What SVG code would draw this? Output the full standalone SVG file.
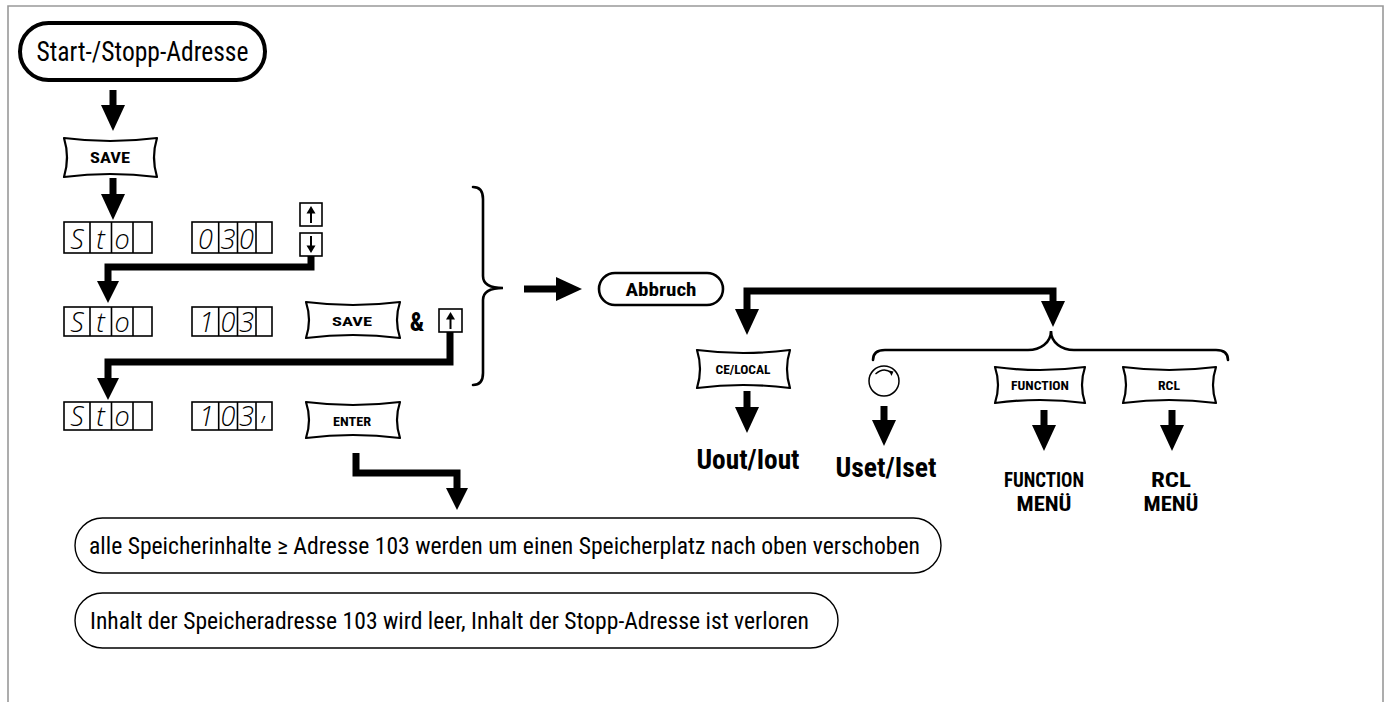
<svg xmlns="http://www.w3.org/2000/svg" width="1390" height="702" viewBox="0 0 1390 702">
<style>
.frame{fill:none;stroke:#999;stroke-width:1.6}
.conn{fill:none;stroke:#000;stroke-width:7;stroke-linejoin:miter}
.btn{fill:#fff;stroke:#000;stroke-width:2.2;stroke-linejoin:round}
.pill{fill:#fff;stroke:#000}
.brace{fill:none;stroke:#000;stroke-width:2.6;stroke-linecap:round}
.disp{fill:none;stroke:#000;stroke-width:1.6}
.key{fill:#fff;stroke:#000;stroke-width:1.6}
.t{font-family:"Liberation Sans Narrow","Roboto Condensed","DejaVu Sans Condensed","Liberation Sans",Arial,sans-serif;fill:#000}
.b{font-weight:bold}
.seg{font-family:"Open Sans","DejaVu Sans",sans-serif;font-style:italic;font-weight:300;font-size:27px;fill:#000;text-anchor:middle}
</style>
<defs>
<marker id="ah" viewBox="0 0 26 24" refX="0" refY="12" markerWidth="26" markerHeight="24" markerUnits="userSpaceOnUse" orient="auto-start-reverse">
<path d="M0,0 L26,12 L0,24 Z" fill="#000"/>
</marker>
<marker id="ahs" viewBox="0 0 22 22" refX="0" refY="11" markerWidth="22" markerHeight="22" markerUnits="userSpaceOnUse" orient="auto-start-reverse">
<path d="M0,0 L22,11 L0,22 Z" fill="#000"/>
</marker>
</defs>

<path class="frame" d="M8,702 L8,6 L1383,6 L1383,702"/>

<g id="connectors">
<path class="conn" d="M113,90 L113,105" marker-end="url(#ah)"/>
<path class="conn" d="M113,178 L113,194" marker-end="url(#ah)"/>
<path class="conn" d="M311,256 L311,267 L108,267 L108,281" marker-end="url(#ahs)"/>
<path class="conn" d="M450,332 L450,362 L108,362 L108,378" marker-end="url(#ahs)"/>
<path class="conn" d="M356,453 L356,473 L457,473 L457,488" marker-end="url(#ahs)"/>
<path class="conn" d="M524,289 L556,289" marker-end="url(#ah)"/>
<path class="conn" d="M747,309 L747,291 L1053,291 L1053,301" marker-start="url(#ah)" marker-end="url(#ah)"/>
<path class="conn" d="M747,391 L747,407" marker-end="url(#ah)"/>
<path class="conn" d="M884,406 L884,420" marker-end="url(#ah)"/>
<path class="conn" d="M1044,410 L1044,425" marker-end="url(#ah)"/>
<path class="conn" d="M1172,410 L1172,425" marker-end="url(#ah)"/>
</g>

<g id="start">
<rect class="pill" x="20" y="23" width="245" height="57" rx="28.5" stroke-width="4"/>
<text class="t" x="142.5" y="61" font-size="28" text-anchor="middle" textLength="212" lengthAdjust="spacingAndGlyphs">Start-/Stopp-Adresse</text>
</g>

<g id="save1">
<path class="btn" d="M64,138 Q110,144 157,138 Q151,157.5 157,177 Q110,171 64,177 Q70,157.5 64,138 Z"/>
<text class="t b" x="110" y="163" font-size="14" text-anchor="middle" textLength="40" lengthAdjust="spacingAndGlyphs">SAVE</text>
</g>

<g id="row1">
<rect class="disp" x="64" y="222" width="88" height="31"/>
<path class="disp" d="M90,222 V253 M111.5,222 V253 M133,222 V253"/>
<text class="seg" x="77" y="249">S</text>
<text class="seg" x="100.5" y="249">t</text>
<text class="seg" x="122" y="249">o</text>
<rect class="disp" x="192" y="222" width="80" height="31"/>
<path class="disp" d="M218.7,222 V253 M237.5,222 V253 M256,222 V253"/>
<text class="seg" x="205.5" y="249">0</text>
<text class="seg" x="228" y="249">3</text>
<text class="seg" x="246.5" y="249">0</text>
</g>

<g id="key-up">
<rect class="key" x="300" y="203" width="22" height="23"/>
<path d="M311,223 V212" stroke="#000" stroke-width="2"/>
<path d="M306.5,213.5 L315.5,213.5 L311,206 Z" fill="#000"/>
</g>
<g id="key-down">
<rect class="key" x="300" y="233" width="22" height="23"/>
<path d="M311,236 V247" stroke="#000" stroke-width="2"/>
<path d="M306.5,245.5 L315.5,245.5 L311,253 Z" fill="#000"/>
</g>

<g id="row2">
<rect class="disp" x="64" y="307" width="88" height="29"/>
<path class="disp" d="M90,307 V336 M111.5,307 V336 M133,307 V336"/>
<text class="seg" x="77" y="332">S</text>
<text class="seg" x="100.5" y="332">t</text>
<text class="seg" x="122" y="332">o</text>
<rect class="disp" x="192" y="307" width="80" height="29"/>
<path class="disp" d="M218.7,307 V336 M237.5,307 V336 M256,307 V336"/>
<text class="seg" x="206.5" y="332">1</text>
<text class="seg" x="228" y="332">0</text>
<text class="seg" x="246.5" y="332">3</text>
</g>

<g id="save2">
<path class="btn" d="M306,302 Q353,308 400,302 Q394,320 400,338 Q353,332 306,338 Q312,320 306,302 Z"/>
<text class="t b" x="352" y="326" font-size="13" text-anchor="middle" textLength="40" lengthAdjust="spacingAndGlyphs">SAVE</text>
</g>
<g id="amp">
<text class="t b" x="417" y="331" font-size="25" text-anchor="middle">&amp;</text>
</g>
<g id="key-up2">
<rect class="key" x="439" y="309" width="23" height="23"/>
<path d="M450.5,329 V318" stroke="#000" stroke-width="2"/>
<path d="M446,319.5 L455,319.5 L450.5,312 Z" fill="#000"/>
</g>

<g id="row3">
<rect class="disp" x="64" y="402" width="88" height="28"/>
<path class="disp" d="M90,402 V430 M111.5,402 V430 M133,402 V430"/>
<text class="seg" x="77" y="426">S</text>
<text class="seg" x="100.5" y="426">t</text>
<text class="seg" x="122" y="426">o</text>
<rect class="disp" x="192" y="402" width="80" height="28"/>
<path class="disp" d="M218.7,402 V430 M237.5,402 V430 M256,402 V430"/>
<text class="seg" x="206.5" y="426">1</text>
<text class="seg" x="228" y="426">0</text>
<text class="seg" x="246.5" y="426">3</text>
<text class="seg" x="265" y="419">,</text>
</g>

<g id="enter">
<path class="btn" d="M306,402 Q353,408 400,402 Q394,420 400,438 Q353,432 306,438 Q312,420 306,402 Z"/>
<text class="t b" x="352" y="426" font-size="13" text-anchor="middle" textLength="38" lengthAdjust="spacingAndGlyphs">ENTER</text>
</g>

<g id="brace-left">
<path class="brace" d="M473,187 C480,187 483,191 483,199 L483,276 C483,284 490,288 503,288 C490,288 483,292 483,300 L483,373 C483,381 480,385 473,385"/>
</g>

<g id="abbruch">
<rect class="pill" x="599" y="273" width="124" height="32" rx="16" stroke-width="2.6"/>
<text class="t b" x="661" y="296" font-size="19" text-anchor="middle" textLength="71" lengthAdjust="spacingAndGlyphs">Abbruch</text>
</g>

<g id="celocal">
<path class="btn" d="M697,350 Q743,356 790,350 Q784,369 790,388 Q743,382 697,388 Q703,369 697,350 Z"/>
<text class="t b" x="743" y="374" font-size="13" text-anchor="middle" textLength="55" lengthAdjust="spacingAndGlyphs">CE/LOCAL</text>
</g>
<g id="uout">
<text class="t b" x="748" y="469" font-size="27" text-anchor="middle" textLength="103" lengthAdjust="spacingAndGlyphs">Uout/Iout</text>
</g>

<g id="brace-right">
<path class="brace" d="M873,360 C873,353 877,350 885,350 L1028,350 C1040,350 1051,343 1051,331 C1051,343 1062,350 1074,350 L1216,350 C1224,350 1228,353 1228,360"/>
</g>

<g id="knob">
<circle cx="884" cy="381" r="15" fill="#fff" stroke="#000" stroke-width="1.5"/>
<path d="M875.5,374 Q884,366.5 891.5,373" fill="none" stroke="#000" stroke-width="1.3"/>
<path d="M889,370.5 L893.5,371.5 L891.5,376 Z" fill="#000"/>
</g>
<g id="uset">
<text class="t b" x="886" y="477" font-size="27" text-anchor="middle" textLength="101" lengthAdjust="spacingAndGlyphs">Uset/Iset</text>
</g>

<g id="function">
<path class="btn" d="M995,367 Q1040,373 1085,367 Q1079,385 1085,403 Q1040,397 995,403 Q1001,385 995,367 Z"/>
<text class="t b" x="1040" y="390" font-size="13" text-anchor="middle" textLength="58" lengthAdjust="spacingAndGlyphs">FUNCTION</text>
</g>
<g id="function-menu">
<text class="t b" x="1044" y="487" font-size="21" text-anchor="middle" textLength="80" lengthAdjust="spacingAndGlyphs">FUNCTION</text>
<text class="t b" x="1044" y="511" font-size="21" text-anchor="middle" textLength="55" lengthAdjust="spacingAndGlyphs">MENÜ</text>
</g>

<g id="rcl">
<path class="btn" d="M1123,367 Q1169,373 1216,367 Q1210,385 1216,403 Q1169,397 1123,403 Q1129,385 1123,367 Z"/>
<text class="t b" x="1169" y="390" font-size="13" text-anchor="middle" textLength="22" lengthAdjust="spacingAndGlyphs">RCL</text>
</g>
<g id="rcl-menu">
<text class="t b" x="1171" y="487" font-size="21" text-anchor="middle" textLength="40" lengthAdjust="spacingAndGlyphs">RCL</text>
<text class="t b" x="1171" y="511" font-size="21" text-anchor="middle" textLength="55" lengthAdjust="spacingAndGlyphs">MENÜ</text>
</g>

<g id="result1">
<rect class="pill" x="75" y="518" width="866" height="55" rx="27.5" stroke-width="1.4"/>
<text class="t" x="89" y="554" font-size="24" textLength="831" lengthAdjust="spacingAndGlyphs">alle Speicherinhalte ≥ Adresse 103 werden um einen Speicherplatz nach oben verschoben</text>
</g>
<g id="result2">
<rect class="pill" x="75" y="593" width="763" height="55" rx="27.5" stroke-width="1.4"/>
<text class="t" x="90" y="629" font-size="24" textLength="719" lengthAdjust="spacingAndGlyphs">Inhalt der Speicheradresse 103 wird leer, Inhalt der Stopp-Adresse ist verloren</text>
</g>
</svg>
